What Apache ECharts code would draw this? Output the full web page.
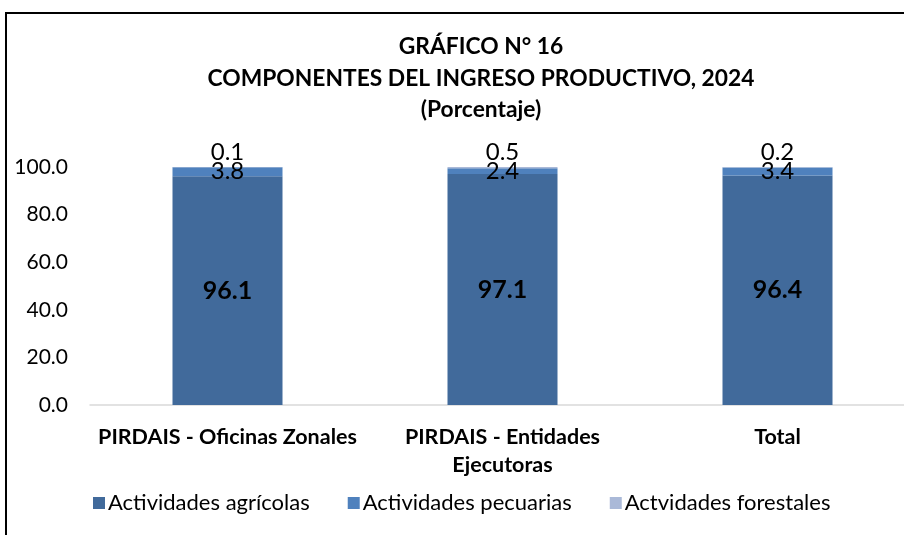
<!DOCTYPE html>
<html>
<head>
<meta charset="utf-8">
<script src="https://cdn.jsdelivr.net/npm/echarts@6/dist/echarts.min.js"></script>
<style>
  html, body { margin: 0; padding: 0; background: #fff; }
  #frame { position: absolute; left: 5px; top: 12px; width: 899px; height: 523px;
           border-top: 2px solid #000; border-left: 2px solid #000; box-sizing: border-box; }
  #main { position: absolute; left: 0; top: 0; width: 904px; height: 535px; }
</style>
</head>
<body>
<div id="frame"></div>
<div id="main"></div>
<script>
// datos
var categories = ['PIRDAIS - Oficinas Zonales', 'PIRDAIS - Entidades\nEjecutoras', 'Total'];
var agricolas = [96.1, 97.1, 96.4];
var pecuarias = [3.8, 2.4, 3.4];
var forestales = [0.1, 0.5, 0.2];
var yTicks = [0, 20, 40, 60, 80, 100];

var font = 'Lato, "Open Sans", sans-serif';
var chart = echarts.init(document.getElementById('main'));

chart.setOption({
  animation: false,
  textStyle: { fontFamily: font },
  title: {
    text: 'GRÁFICO N° 16\nCOMPONENTES DEL INGRESO PRODUCTIVO, 2024\n(Porcentaje)',
    left: 476,
    top: 26,
    textAlign: 'center',
    textStyle: { fontSize: 22.8, fontWeight: 'bold', color: '#000', lineHeight: 31.5, fontFamily: font }
  },
  legend: {
    left: 88,
    top: 487,
    itemWidth: 12,
    itemHeight: 12,
    itemGap: 38,
    icon: 'rect',
    textStyle: { fontSize: 22, color: '#000', fontFamily: font, padding: [0, 0, 0, -2] },
    data: ['Actividades agrícolas', 'Actividades pecuarias', 'Actvidades forestales']
  },
  grid: { left: 90, width: 825, top: 167, bottom: 130, outerBoundsMode: 'none' },
  xAxis: {
    type: 'category',
    data: categories,
    axisTick: { show: false },
    axisLine: { lineStyle: { color: '#d9d9d9', width: 1.5 } },
    axisLabel: { interval: 0, fontSize: 21.5, fontWeight: 'bold', color: '#000', margin: 18, lineHeight: 28, fontFamily: font }
  },
  yAxis: {
    type: 'value',
    min: yTicks[0],
    max: yTicks[yTicks.length - 1],
    interval: 20,
    splitLine: { show: false },
    axisLine: { show: false },
    axisLabel: { fontSize: 21, color: '#000', margin: 22, fontFamily: font,
      formatter: function (v) { return v.toFixed(1); } }
  },
  series: [{
    name: 'Actividades agrícolas',
    type: 'bar',
    stack: 'total',
    barWidth: 110,
    itemStyle: { color: '#416A9B' },
    label: { show: true, position: 'inside', fontSize: 25, fontWeight: 'bold', color: '#000',
      formatter: function (p) { return p.value.toFixed(1); } },
    data: agricolas
  }, {
    name: 'Actividades pecuarias',
    type: 'bar',
    stack: 'total',
    itemStyle: { color: '#4F81BD' },
    label: { show: true, position: 'inside', fontSize: 24, color: '#000',
      formatter: function (p) { return p.value.toFixed(1); } },
    data: pecuarias
  }, {
    name: 'Actvidades forestales',
    type: 'bar',
    stack: 'total',
    itemStyle: { color: '#AAB9D8' },
    label: { show: true, position: 'top', distance: 3, fontSize: 24, color: '#000',
      formatter: function (p) { return p.value.toFixed(1); } },
    data: forestales
  }]
});
</script>
</body>
</html>
